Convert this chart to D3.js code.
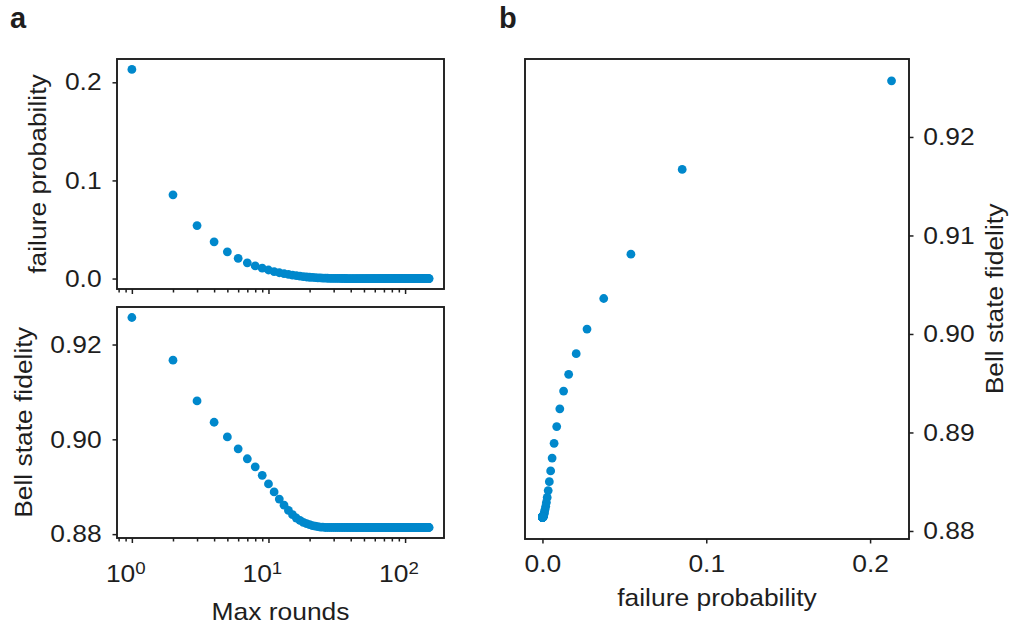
<!DOCTYPE html>
<html lang="en">
<head>
    <meta charset="UTF-8">
    <title>rounds</title>
    <style>
        body{margin:0; background:#fff;}
        svg{display:block;}
        text{font-family:"Liberation Sans", Arial, sans-serif; fill:#1e1e1e;}
    </style>
</head>
<body>
    <div id="chart"></div>
    <script src="https://cdn.jsdelivr.net/npm/d3@7"></script>
    <script>
        // max rounds 1..150
        var rounds = d3.range(1, 151);

        var failProb = [
            0.2131, 0.0853, 0.0540, 0.0374, 0.0272, 0.0206, 0.0160, 0.0129, 0.0106, 0.0087,
            0.0071, 0.0059, 0.0050, 0.0042, 0.0035, 0.0029, 0.0024, 0.0020, 0.0016, 0.0013,
            0.0011, 0.0009, 0.0007, 0.0006, 0.0005, 0.0004, 0.0003, 0.00025, 0.0002, 0.00015,
            0.00012, 0.0001, 0.00008, 0.00006, 0.00005, 0.00004, 0.00003, 0.00002, 0.00002, 0.00001,
            0.00001, 0.00001, 0.00001, 0, 0, 0, 0, 0, 0, 0,
            0, 0, 0, 0, 0, 0, 0, 0, 0, 0,
            0, 0, 0, 0, 0, 0, 0, 0, 0, 0,
            0, 0, 0, 0, 0, 0, 0, 0, 0, 0,
            0, 0, 0, 0, 0, 0, 0, 0, 0, 0,
            0, 0, 0, 0, 0, 0, 0, 0, 0, 0,
            0, 0, 0, 0, 0, 0, 0, 0, 0, 0,
            0, 0, 0, 0, 0, 0, 0, 0, 0, 0,
            0, 0, 0, 0, 0, 0, 0, 0, 0, 0,
            0, 0, 0, 0, 0, 0, 0, 0, 0, 0,
            0, 0, 0, 0, 0, 0, 0, 0, 0, 0
        ];

        var fidelity = [
            0.9257, 0.9167, 0.9081, 0.9036, 0.9005, 0.8980, 0.8959, 0.8942, 0.8924, 0.8906,
            0.8889, 0.8874, 0.8861, 0.8850, 0.8841, 0.8834, 0.8829, 0.8825, 0.8822, 0.8820,
            0.8818, 0.8817, 0.8816, 0.8815, 0.8815, 0.8814, 0.8814, 0.8814, 0.8814, 0.8814,
            0.8814, 0.8814, 0.8814, 0.8814, 0.8814, 0.8814, 0.8814, 0.8814, 0.8814, 0.8814,
            0.8814, 0.8814, 0.8814, 0.8814, 0.8814, 0.8814, 0.8814, 0.8814, 0.8814, 0.8814,
            0.8814, 0.8814, 0.8814, 0.8814, 0.8814, 0.8814, 0.8814, 0.8814, 0.8814, 0.8814,
            0.8814, 0.8814, 0.8814, 0.8814, 0.8814, 0.8814, 0.8814, 0.8814, 0.8814, 0.8814,
            0.8814, 0.8814, 0.8814, 0.8814, 0.8814, 0.8814, 0.8814, 0.8814, 0.8814, 0.8814,
            0.8814, 0.8814, 0.8814, 0.8814, 0.8814, 0.8814, 0.8814, 0.8814, 0.8814, 0.8814,
            0.8814, 0.8814, 0.8814, 0.8814, 0.8814, 0.8814, 0.8814, 0.8814, 0.8814, 0.8814,
            0.8814, 0.8814, 0.8814, 0.8814, 0.8814, 0.8814, 0.8814, 0.8814, 0.8814, 0.8814,
            0.8814, 0.8814, 0.8814, 0.8814, 0.8814, 0.8814, 0.8814, 0.8814, 0.8814, 0.8814,
            0.8814, 0.8814, 0.8814, 0.8814, 0.8814, 0.8814, 0.8814, 0.8814, 0.8814, 0.8814,
            0.8814, 0.8814, 0.8814, 0.8814, 0.8814, 0.8814, 0.8814, 0.8814, 0.8814, 0.8814,
            0.8814, 0.8814, 0.8814, 0.8814, 0.8814, 0.8814, 0.8814, 0.8814, 0.8814, 0.8814
        ];

        var logMajor = [1, 10, 100];
        var logMinor = [0.8, 0.9, 2, 3, 4, 5, 6, 7, 8, 9, 20, 30, 40, 50, 60, 70, 80, 90];
        var failTicks = [0, 0.1, 0.2];
        var fidTicks = [0.88, 0.90, 0.92];
        var fidTicksRight = [0.88, 0.89, 0.90, 0.91, 0.92];

        var data = rounds.map(function(r, i){
            return {r: r, p: failProb[i], f: fidelity[i]};
        });

        var W = 1013, H = 628;
        var dotColor = '#0088cc';
        var ink = '#1e1e1e';
        var sx = 1.1; // text looks a bit stretched horizontally

        // 5% padding like matplotlib autoscale
        function pad(ext){
            var d = (ext[1] - ext[0]) * 0.05;
            return [ext[0] - d, ext[1] + d];
        }
        function padLog(ext){
            var a = Math.log10(ext[0]), b = Math.log10(ext[1]);
            var d = (b - a) * 0.05;
            return [Math.pow(10, a - d), Math.pow(10, b + d)];
        }

        var pa = {x0: 117, x1: 444, y0: 59, y1: 289};   // top left
        var pb = {x0: 117, x1: 444, y0: 307, y1: 538};  // bottom left
        var pc = {x0: 525, x1: 909, y0: 59, y1: 539};   // right

        var xLog = d3.scaleLog().domain(padLog(d3.extent(rounds))).range([pa.x0, pa.x1]);
        var yFail = d3.scaleLinear().domain(pad(d3.extent(failProb))).range([pa.y1, pa.y0]);
        var yFid = d3.scaleLinear().domain(pad(d3.extent(fidelity))).range([pb.y1, pb.y0]);
        var xFail = d3.scaleLinear().domain(pad(d3.extent(failProb))).range([pc.x0, pc.x1]);
        var yFid2 = d3.scaleLinear().domain(pad(d3.extent(fidelity))).range([pc.y1, pc.y0]);

        var svg = d3.select('#chart').append('svg')
            .attr('width', W).attr('height', H);

        function styleAxis(g){
            g.select('.domain').remove();
            g.selectAll('line').attr('stroke', ink).attr('stroke-width', 1.5);
            g.selectAll('text').attr('fill', ink).style('font-size', '24px')
                .style('font-family', '"Liberation Sans", Arial, sans-serif');
        }

        function frame(p){
            svg.append('rect')
                .attr('x', p.x0).attr('y', p.y0)
                .attr('width', p.x1 - p.x0).attr('height', p.y1 - p.y0)
                .attr('fill', 'none').attr('stroke', ink).attr('stroke-width', 1.9);
        }

        // log x axis (major + minor)
        function logAxis(p, withLabels){
            var gMin = svg.append('g').attr('transform', 'translate(0,' + p.y1 + ')')
                .call(d3.axisBottom(xLog).tickValues(logMinor).tickSize(3.5).tickFormat(''));
            styleAxis(gMin);
            var gMaj = svg.append('g').attr('transform', 'translate(0,' + p.y1 + ')')
                .call(d3.axisBottom(xLog).tickValues(logMajor).tickSize(5).tickPadding(22)
                    .tickFormat(withLabels ? function(d){ return '10'; } : ''));
            styleAxis(gMaj);
            if(withLabels){
                gMaj.selectAll('text')
                    .attr('transform', 'scale(' + sx + ',1)')
                    .attr('x', -6)
                    .each(function(d){
                        d3.select(this).append('tspan')
                            .attr('dy', '-0.45em')
                            .style('font-size', '17px')
                            .text(Math.round(Math.log10(d)));
                    });
            }
        }

        // panel a top
        frame(pa);
        logAxis(pa, false);
        var gy1 = svg.append('g').attr('transform', 'translate(' + pa.x0 + ',0)')
            .call(d3.axisLeft(yFail).tickValues(failTicks).tickSize(4.5).tickPadding(9.5).tickFormat(d3.format('.1f')));
        styleAxis(gy1);
        gy1.selectAll('text').attr('transform', 'scale(' + sx + ',1)');

        svg.append('g').selectAll('circle')
            .data(data).enter().append('circle')
            .attr('cx', function(d){ return xLog(d.r); })
            .attr('cy', function(d){ return yFail(d.p); })
            .attr('r', 4.4)
            .attr('fill', dotColor);

        // panel a bottom
        frame(pb);
        logAxis(pb, true);
        var gy2 = svg.append('g').attr('transform', 'translate(' + pb.x0 + ',0)')
            .call(d3.axisLeft(yFid).tickValues(fidTicks).tickSize(4.5).tickPadding(9.5).tickFormat(d3.format('.2f')));
        styleAxis(gy2);
        gy2.selectAll('text').attr('transform', 'scale(' + sx + ',1)');

        svg.append('g').selectAll('circle')
            .data(data).enter().append('circle')
            .attr('cx', function(d){ return xLog(d.r); })
            .attr('cy', function(d){ return yFid(d.f); })
            .attr('r', 4.4)
            .attr('fill', dotColor);

        // panel b
        frame(pc);
        var gx3 = svg.append('g').attr('transform', 'translate(0,' + pc.y1 + ')')
            .call(d3.axisBottom(xFail).tickValues(failTicks).tickSize(4.5).tickPadding(11).tickFormat(d3.format('.1f')));
        styleAxis(gx3);
        gx3.selectAll('text').attr('transform', 'scale(' + sx + ',1)');
        var gy3 = svg.append('g').attr('transform', 'translate(' + pc.x1 + ',0)')
            .call(d3.axisRight(yFid2).tickValues(fidTicksRight).tickSize(4.5).tickPadding(8.5).tickFormat(d3.format('.2f')));
        styleAxis(gy3);
        gy3.selectAll('text').attr('transform', 'scale(' + sx + ',1)');

        svg.append('g').selectAll('circle')
            .data(data).enter().append('circle')
            .attr('cx', function(d){ return xFail(d.p); })
            .attr('cy', function(d){ return yFid2(d.f); })
            .attr('r', 4.4)
            .attr('fill', dotColor);

        // axis titles
        function title(txt, x, y, rot){
            svg.append('text')
                .attr('transform', 'translate(' + x + ',' + y + ')' + (rot ? ' rotate(-90)' : '') + ' scale(' + sx + ',1)')
                .attr('text-anchor', 'middle')
                .style('font-size', '24px')
                .text(txt);
        }
        title('failure probability', 46, (pa.y0 + pa.y1) / 2, true);
        title('Bell state fidelity', 32, (pb.y0 + pb.y1) / 2, true);
        title('Max rounds', (pa.x0 + pa.x1) / 2, 620, false);
        title('failure probability', (pc.x0 + pc.x1) / 2, 606, false);
        title('Bell state fidelity', 1003, (pc.y0 + pc.y1) / 2, true);

        // panel letters
        svg.append('text').attr('x', 10).attr('y', 28)
            .style('font-size', '29px').style('font-weight', 'bold').text('a');
        svg.append('text').attr('x', 499).attr('y', 28)
            .style('font-size', '29px').style('font-weight', 'bold').text('b');
    </script>
</body>
</html>
